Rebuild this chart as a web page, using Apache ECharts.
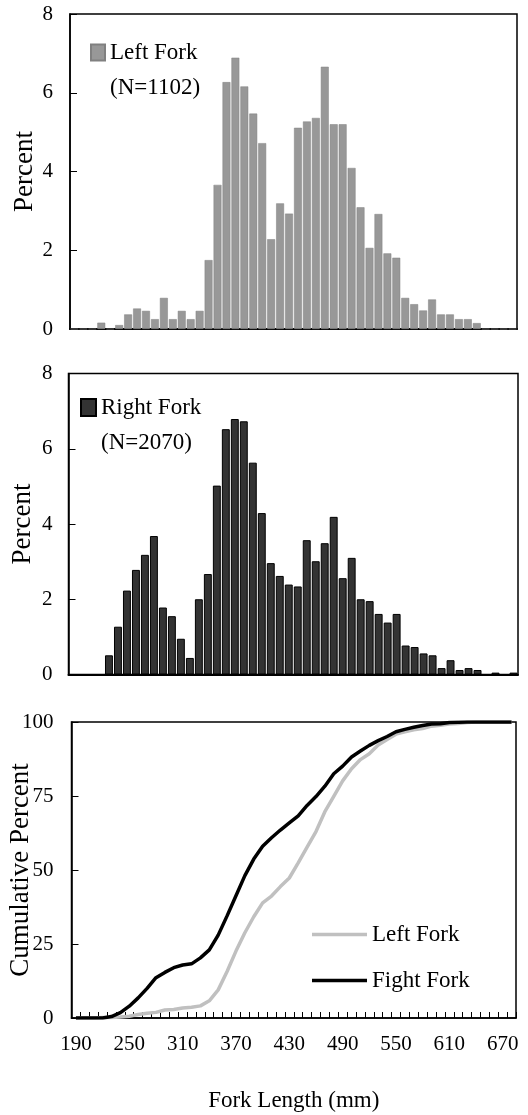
<!DOCTYPE html>
<html>
<head>
<meta charset="utf-8">
<script src="https://cdn.jsdelivr.net/npm/echarts@6/dist/echarts.min.js"></script>
<style>
html, body { margin: 0; padding: 0; background: #fff; }
#main { width: 528px; height: 1115px; }
</style>
</head>
<body>
<div id="main"></div>
<script>
// fork length classes (mm)
var lengths = ['190','200','210','220','230','240','250','260','270','280',
               '290','300','310','320','330','340','350','360','370','380',
               '390','400','410','420','430','440','450','460','470','480',
               '490','500','510','520','530','540','550','560','570','580',
               '590','600','610','620','630','640','650','660','670','680'];

// percent per class, left fork (N=1102)
var leftPct = [0, 0, 0, 0.16, 0, 0.10, 0.37, 0.52, 0.46, 0.25,
               0.79, 0.25, 0.46, 0.25, 0.46, 1.75, 3.66, 6.27, 6.89, 6.16,
               5.47, 4.72, 2.28, 3.19, 2.93, 5.11, 5.27, 5.36, 6.66, 5.20,
               5.20, 4.09, 3.09, 2.06, 2.92, 1.92, 1.81, 0.79, 0.63, 0.47,
               0.75, 0.37, 0.37, 0.25, 0.25, 0.15, 0, 0, 0, 0];

// percent per class, right fork (N=2070)
var rightPct = [0, 0, 0, 0, 0.51, 1.27, 2.23, 2.78, 3.18, 3.68,
                1.78, 1.55, 0.95, 0.44, 2.00, 2.67, 5.02, 6.52, 6.79, 6.73,
                5.63, 4.29, 2.96, 2.62, 2.39, 2.34, 3.57, 3.01, 3.49, 4.19,
                2.56, 3.10, 2.00, 1.95, 1.61, 1.38, 1.61, 0.77, 0.73, 0.56,
                0.51, 0.17, 0.38, 0.12, 0.17, 0.12, 0, 0.05, 0, 0.05];

// cumulative percent
var leftCum = [0, 0, 0, 0.2, 0.2, 0.3, 0.6, 1.2, 1.6, 1.9,
               2.7, 2.9, 3.4, 3.6, 4.1, 5.8, 9.5, 15.7, 22.6, 28.8,
               34.2, 38.9, 41.2, 44.4, 47.3, 52.4, 57.7, 63.0, 69.7, 74.9,
               80.1, 84.2, 87.3, 89.3, 92.2, 94.1, 95.9, 96.7, 97.4, 97.8,
               98.6, 98.9, 99.3, 99.5, 99.8, 100, 100, 100, 100, 100];

var rightCum = [0, 0, 0, 0, 0.5, 1.8, 4.0, 6.8, 10.0, 13.6,
                15.4, 17.0, 17.9, 18.3, 20.3, 23.0, 28.0, 34.5, 41.3, 48.1,
                53.7, 58.0, 60.9, 63.5, 65.9, 68.3, 71.8, 74.8, 78.3, 82.5,
                85.1, 88.2, 90.2, 92.1, 93.7, 95.1, 96.7, 97.5, 98.2, 98.8,
                99.3, 99.4, 99.8, 99.9, 100, 100, 100, 100, 100, 100];

var font = '"Liberation Serif", "Times New Roman", serif';

function yAxis(idx, max, step, margin, gap, name) {
    return {
        type: 'value', gridIndex: idx, min: 0, max: max, interval: step,
        name: name, nameLocation: 'middle', nameGap: gap, nameRotate: 90,
        nameMoveOverlap: false,
        nameTextStyle: { fontFamily: font, fontSize: 27, color: '#000' },
        axisLine: { show: true, lineStyle: { color: '#000', width: 1.5 } },
        axisTick: { show: true, inside: true, length: 7, lineStyle: { color: '#000', width: 1 } },
        axisLabel: { fontFamily: font, fontSize: 21, color: '#000', margin: margin },
        splitLine: { show: false }
    };
}

function histAxis(idx) {
    return {
        type: 'category', gridIndex: idx, data: lengths, boundaryGap: true,
        axisLine: { show: true, lineStyle: { color: '#000', width: 2 } },
        axisTick: { show: false },
        axisLabel: { show: false }
    };
}

var myChart = echarts.init(document.getElementById('main'));

var option = {
    animation: false,
    backgroundColor: '#fff',
    grid: [
        { left: 70, top: 14, width: 447, height: 315, show: true, borderColor: '#000', borderWidth: 1.5, outerBoundsMode: 'none' },
        { left: 68.5, top: 373.5, width: 449.5, height: 301, show: true, borderColor: '#000', borderWidth: 1.5, outerBoundsMode: 'none' },
        { left: 71.5, top: 722, width: 444.5, height: 296, show: true, borderColor: '#000', borderWidth: 1.5, outerBoundsMode: 'none' }
    ],
    title: [
        { text: '(N=1102)', left: 110, top: 76, padding: 0,
          textStyle: { fontFamily: font, fontSize: 23, fontWeight: 'normal', color: '#000' } },
        { text: '(N=2070)', left: 101, top: 431, padding: 0,
          textStyle: { fontFamily: font, fontSize: 23, fontWeight: 'normal', color: '#000' } }
    ],
    legend: [
        { data: ['Left Fork'], left: 90, top: 41, padding: 0, icon: 'rect',
          itemWidth: 14, itemHeight: 16, selectedMode: false,
          textStyle: { fontFamily: font, fontSize: 23, color: '#000' } },
        { data: ['Right Fork'], left: 80, top: 396, padding: 0, icon: 'rect',
          itemWidth: 15, itemHeight: 17, selectedMode: false,
          textStyle: { fontFamily: font, fontSize: 23, color: '#000' } },
        { data: ['Left Fork cumulative', 'Fight Fork'], left: 312, top: 923, padding: 0,
          orient: 'vertical', itemGap: 23, itemWidth: 55, itemHeight: 3.5, icon: 'rect',
          selectedMode: false,
          formatter: function (name) { return name === 'Left Fork cumulative' ? 'Left Fork' : name; },
          textStyle: { fontFamily: font, fontSize: 23, color: '#000' } }
    ],
    xAxis: [
        histAxis(0),
        histAxis(1),
        {
            type: 'category', gridIndex: 2, data: lengths, boundaryGap: true,
            name: 'Fork Length (mm)', nameLocation: 'middle', nameGap: 71,
            nameMoveOverlap: false,
            nameTextStyle: { fontFamily: font, fontSize: 23, color: '#000' },
            axisLine: { show: true, lineStyle: { color: '#000', width: 1.5 } },
            axisTick: { show: true, inside: true, length: 6, interval: 0, lineStyle: { color: '#000', width: 1 } },
            axisLabel: { interval: 5, fontFamily: font, fontSize: 21, color: '#000', margin: 16 }
        }
    ],
    yAxis: [
        yAxis(0, 8, 2, 17, 32, 'Percent'),
        yAxis(1, 8, 2, 16, 32, 'Percent'),
        yAxis(2, 100, 25, 18, 37, 'Cumulative Percent')
    ],
    series: [
        { name: 'Left Fork', type: 'bar', xAxisIndex: 0, yAxisIndex: 0, data: leftPct,
          barCategoryGap: '12%',
          itemStyle: { color: '#989898', borderColor: '#808080', borderWidth: 0.5 } },
        { name: 'Right Fork', type: 'bar', xAxisIndex: 1, yAxisIndex: 1, data: rightPct,
          barCategoryGap: '12%',
          itemStyle: { color: '#333333', borderColor: '#000', borderWidth: 1 } },
        { name: 'Left Fork cumulative', type: 'line', xAxisIndex: 2, yAxisIndex: 2, data: leftCum,
          symbol: 'none', itemStyle: { color: '#c0c0c0' },
          lineStyle: { color: '#c0c0c0', width: 3.5 } },
        { name: 'Fight Fork', type: 'line', xAxisIndex: 2, yAxisIndex: 2, data: rightCum,
          symbol: 'none', itemStyle: { color: '#000' },
          lineStyle: { color: '#000', width: 3.5 } }
    ]
};

myChart.setOption(option);
</script>
</body>
</html>
